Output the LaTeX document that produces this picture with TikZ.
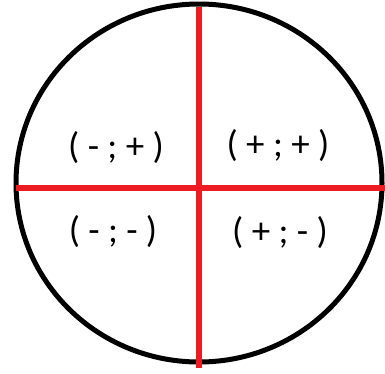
\documentclass[tikz,border=0pt]{standalone}
\usepackage{fontspec}
\setmainfont{Carlito}
\usepackage{xcolor}
\usepackage{tikz}
\definecolor{axisred}{HTML}{ED1C24}

\begin{document}
\begin{tikzpicture}[
  x=1pt, y=-1pt,
  signlabel/.style={font=\fontsize{37}{44}\selectfont, inner sep=0pt},
  axisline/.style={draw=axisred, line width=6pt},
  rimline/.style={draw=black, line width=5pt}
]
  \useasboundingbox (0,0) rectangle (385,373);
  \draw[rimline] (199,183) ellipse [x radius=183, y radius=179];

  \coordinate (west) at (16,188);
  \coordinate (east) at (385,188);
  \coordinate (north) at (199,7);
  \coordinate (south) at (199,368);
  \draw[axisline] (west) -- (east);
  \draw[axisline] (north) -- (south);

  \node[signlabel] (q2) at (116,148) {( - ; + )};
  \node[signlabel] (q1) at (278,146) {( + ; + )};
  \node[signlabel] (q3) at (113,232) {( - ; - )};
  \node[signlabel] (q4) at (280,233) {( + ; - )};
\end{tikzpicture}
\end{document}
